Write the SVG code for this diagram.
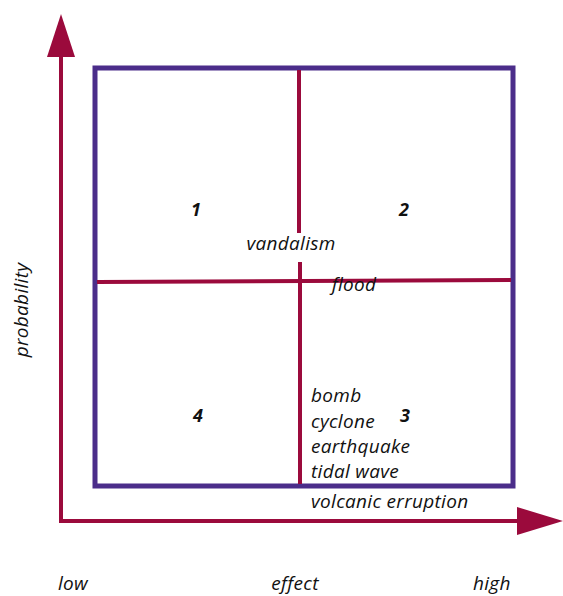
<svg xmlns="http://www.w3.org/2000/svg" width="563" height="596" viewBox="0 0 563 596">
<style>
.t{font-family:"Open Sans","Liberation Sans",sans-serif;font-style:italic;font-size:19px;letter-spacing:0.3px;fill:#111}
.n{font-family:"Open Sans","Liberation Sans",sans-serif;font-style:italic;font-weight:bold;font-size:18px;fill:#111}
.ax{stroke:#9b0a3c;stroke-width:4;fill:none}
.ah{fill:#9b0a3c}
</style>
<rect width="563" height="596" fill="#fff"/>
<g id="connectors">
<polyline class="ax" points="61,57 61,521 517,521"/>
<polygon class="ah" points="61,14 75,57 47,57"/>
<polygon class="ah" points="563,521 517,507 517,535"/>
</g>
<g id="grid">
<rect x="95" y="68" width="418" height="418" fill="none" stroke="#4b2d8a" stroke-width="5"/>
<line x1="299" y1="70" x2="299" y2="233" class="ax"/>
<line x1="300" y1="262" x2="300" y2="484" class="ax"/>
<line x1="97" y1="282" x2="511" y2="280" class="ax"/>
</g>
<g id="q1"><text class="n" x="196" y="216" text-anchor="middle">1</text></g>
<g id="q2"><text class="n" x="404" y="216" text-anchor="middle">2</text></g>
<g id="q3"><text class="n" x="405" y="422" text-anchor="middle">3</text></g>
<g id="q4"><text class="n" x="198" y="422" text-anchor="middle">4</text></g>
<g id="labels">
<text class="t" x="291" y="250" text-anchor="middle">vandalism</text>
<text class="t" x="354" y="291" text-anchor="middle">flood</text>
<text class="t" x="311" y="402">bomb</text>
<text class="t" x="311" y="428">cyclone</text>
<text class="t" x="311" y="453">earthquake</text>
<text class="t" x="311" y="478">tidal wave</text>
<text class="t" x="311" y="508">volcanic erruption</text>
<text class="t" x="58" y="590">low</text>
<text class="t" x="295" y="590" text-anchor="middle">effect</text>
<text class="t" x="473" y="590">high</text>
<text class="t" transform="translate(28,310) rotate(-90)" text-anchor="middle">probability</text>
</g>
</svg>
